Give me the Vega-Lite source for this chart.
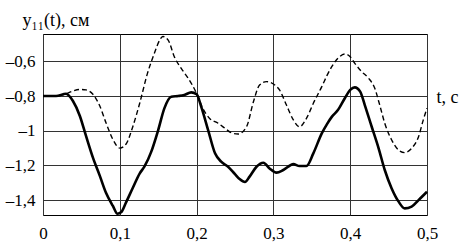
{
  "$schema": "https://vega.github.io/schema/vega-lite/v6.json",
  "autosize": {"type": "none"},
  "padding": {"left": 43, "top": 34, "right": 35, "bottom": 28},
  "width": 384,
  "height": 181,
  "background": "white",
  "config": {
    "view": {"stroke": "#000", "strokeWidth": 1},
    "font": "Liberation Serif"
  },
  "datasets": {
    "solid": [
      {"t": 0, "y": -0.8}, {"t": 0.017, "y": -0.8}, {"t": 0.03, "y": -0.787}, {"t": 0.039, "y": -0.829},
      {"t": 0.048, "y": -0.915}, {"t": 0.056, "y": -1.03}, {"t": 0.065, "y": -1.155}, {"t": 0.074, "y": -1.26},
      {"t": 0.082, "y": -1.357}, {"t": 0.091, "y": -1.433}, {"t": 0.097, "y": -1.478}, {"t": 0.102, "y": -1.468},
      {"t": 0.108, "y": -1.414}, {"t": 0.117, "y": -1.328}, {"t": 0.126, "y": -1.245}, {"t": 0.132, "y": -1.207},
      {"t": 0.141, "y": -1.12}, {"t": 0.15, "y": -0.996}, {"t": 0.158, "y": -0.871}, {"t": 0.167, "y": -0.804},
      {"t": 0.176, "y": -0.8}, {"t": 0.184, "y": -0.794}, {"t": 0.193, "y": -0.779}, {"t": 0.2, "y": -0.789},
      {"t": 0.206, "y": -0.861}, {"t": 0.215, "y": -0.996}, {"t": 0.224, "y": -1.13}, {"t": 0.232, "y": -1.178},
      {"t": 0.241, "y": -1.207}, {"t": 0.25, "y": -1.25}, {"t": 0.256, "y": -1.278}, {"t": 0.263, "y": -1.295},
      {"t": 0.269, "y": -1.264}, {"t": 0.278, "y": -1.207}, {"t": 0.287, "y": -1.184}, {"t": 0.295, "y": -1.217},
      {"t": 0.304, "y": -1.241}, {"t": 0.313, "y": -1.226}, {"t": 0.326, "y": -1.192}, {"t": 0.334, "y": -1.203},
      {"t": 0.343, "y": -1.203}, {"t": 0.352, "y": -1.13}, {"t": 0.363, "y": -1.015}, {"t": 0.37, "y": -0.96},
      {"t": 0.376, "y": -0.92}, {"t": 0.384, "y": -0.881}, {"t": 0.393, "y": -0.813}, {"t": 0.4, "y": -0.765},
      {"t": 0.406, "y": -0.75}, {"t": 0.413, "y": -0.775}, {"t": 0.419, "y": -0.852}, {"t": 0.428, "y": -0.977},
      {"t": 0.437, "y": -1.101}, {"t": 0.445, "y": -1.226}, {"t": 0.454, "y": -1.332}, {"t": 0.463, "y": -1.408},
      {"t": 0.471, "y": -1.447}, {"t": 0.48, "y": -1.437}, {"t": 0.489, "y": -1.399}, {"t": 0.5, "y": -1.351}
    ],
    "dashed": [
      {"t": 0, "y": -0.8}, {"t": 0.017, "y": -0.8}, {"t": 0.03, "y": -0.787}, {"t": 0.039, "y": -0.771},
      {"t": 0.048, "y": -0.762}, {"t": 0.056, "y": -0.765}, {"t": 0.065, "y": -0.79}, {"t": 0.074, "y": -0.858},
      {"t": 0.082, "y": -0.954}, {"t": 0.091, "y": -1.05}, {"t": 0.1, "y": -1.1}, {"t": 0.108, "y": -1.078},
      {"t": 0.117, "y": -0.975}, {"t": 0.126, "y": -0.84}, {"t": 0.136, "y": -0.67}, {"t": 0.145, "y": -0.554},
      {"t": 0.152, "y": -0.478}, {"t": 0.156, "y": -0.457}, {"t": 0.163, "y": -0.478}, {"t": 0.171, "y": -0.574},
      {"t": 0.18, "y": -0.641}, {"t": 0.189, "y": -0.698}, {"t": 0.2, "y": -0.785}, {"t": 0.208, "y": -0.871},
      {"t": 0.217, "y": -0.929}, {"t": 0.228, "y": -0.957}, {"t": 0.237, "y": -0.986}, {"t": 0.245, "y": -1.011},
      {"t": 0.254, "y": -1.019}, {"t": 0.265, "y": -0.977}, {"t": 0.274, "y": -0.833}, {"t": 0.282, "y": -0.737},
      {"t": 0.291, "y": -0.717}, {"t": 0.3, "y": -0.731}, {"t": 0.308, "y": -0.765}, {"t": 0.317, "y": -0.852},
      {"t": 0.326, "y": -0.938}, {"t": 0.334, "y": -0.977}, {"t": 0.343, "y": -0.929}, {"t": 0.352, "y": -0.842},
      {"t": 0.363, "y": -0.746}, {"t": 0.37, "y": -0.68}, {"t": 0.376, "y": -0.631}, {"t": 0.384, "y": -0.583},
      {"t": 0.393, "y": -0.558}, {"t": 0.4, "y": -0.574}, {"t": 0.406, "y": -0.612}, {"t": 0.415, "y": -0.66},
      {"t": 0.424, "y": -0.698}, {"t": 0.432, "y": -0.756}, {"t": 0.439, "y": -0.861}, {"t": 0.445, "y": -0.957},
      {"t": 0.454, "y": -1.053}, {"t": 0.463, "y": -1.111}, {"t": 0.471, "y": -1.126}, {"t": 0.48, "y": -1.101},
      {"t": 0.489, "y": -1.034}, {"t": 0.495, "y": -0.94}, {"t": 0.5, "y": -0.87}
    ]
  },
  "encoding": {
    "x": {
      "field": "t", "type": "quantitative",
      "scale": {"domain": [0, 0.5], "nice": false, "zero": false},
      "axis": {
        "values": [0, 0.1, 0.2, 0.3, 0.4, 0.5],
        "gridColor": "#333", "gridWidth": 1, "gridOpacity": 1,
        "domain": false, "ticks": false,
        "labelPadding": 10, "labelFontSize": 17, "labelColor": "#000", "labelFont": "Liberation Serif",
        "labelExpr": "replace(format(datum.value, '.1~f'), '.', ',')",
        "labelFlush": false, "labelOverlap": false,
        "title": "t, с", "titleFont": "Liberation Serif", "titleFontSize": 18, "titleFontWeight": "normal",
        "titleColor": "#000", "titleAngle": 0, "titleAlign": "left", "titleBaseline": "alphabetic",
        "titleX": 393, "titleY": -113
      }
    },
    "y": {
      "field": "y", "type": "quantitative",
      "scale": {"domain": [-1.485, -0.443], "nice": false, "zero": false},
      "axis": {
        "values": [-1.4, -1.2, -1, -0.8, -0.6],
        "gridColor": "#333", "gridWidth": 1, "gridOpacity": 1,
        "domain": false, "ticks": false,
        "labelPadding": 8, "labelFontSize": 17, "labelColor": "#000", "labelFont": "Liberation Serif",
        "labelExpr": "'–' + replace(format(abs(datum.value), '.1~f'), '.', ',')",
        "labelFlush": false, "labelOverlap": false,
        "title": "y₁₁(t), см", "titleFont": "Liberation Serif", "titleFontSize": 18, "titleFontWeight": "normal",
        "titleColor": "#000", "titleAngle": 0, "titleAlign": "left", "titleBaseline": "alphabetic",
        "titleX": -21, "titleY": -9
      }
    }
  },
  "layer": [
    {
      "data": {"name": "dashed"},
      "mark": {"type": "line", "color": "#000", "strokeWidth": 1.4, "strokeDash": [5, 3], "interpolate": "monotone"}
    },
    {
      "data": {"name": "solid"},
      "mark": {"type": "line", "color": "#000", "strokeWidth": 2.6, "interpolate": "monotone"}
    }
  ]
}
